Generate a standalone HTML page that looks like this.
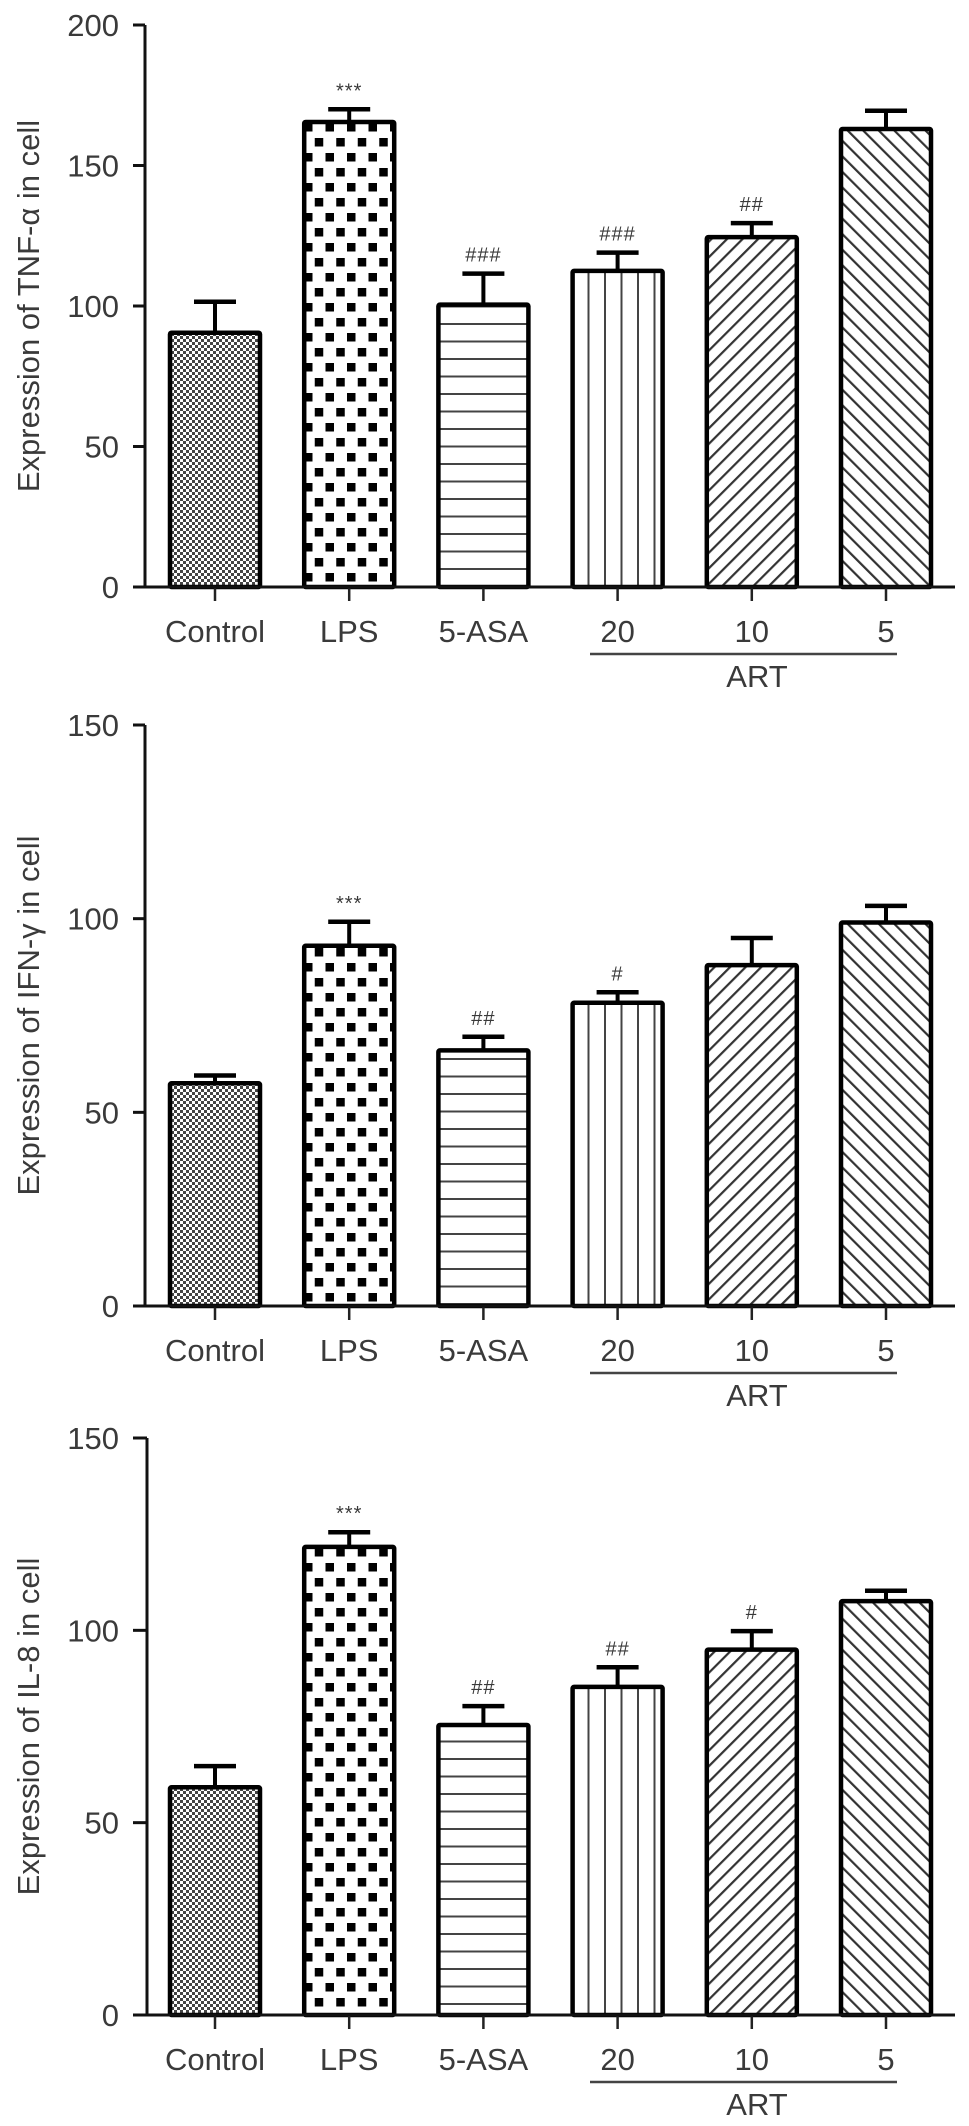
<!DOCTYPE html>
<html><head><meta charset="utf-8"><style>
html,body{margin:0;padding:0;background:#fff;}
svg{display:block;}
text{font-family:"Liberation Sans",sans-serif;fill:#3a3a3a;}
</style></head><body>
<svg id="fig" width="969" height="2126" viewBox="0 0 969 2126" xmlns="http://www.w3.org/2000/svg">
<defs>
<pattern id="pDots" patternUnits="userSpaceOnUse" width="6" height="6">
<rect width="6" height="6" fill="#fff"/><rect x="0" y="0" width="3" height="3" fill="#444"/><rect x="3" y="3" width="3" height="3" fill="#444"/>
</pattern>
<pattern id="pCheck" patternUnits="userSpaceOnUse" width="21.5" height="30">
<rect width="21.5" height="30" fill="#fff"/><rect x="3" y="3" width="8.5" height="8.5" fill="#000"/><rect x="13.75" y="18" width="8.5" height="8.5" fill="#000"/><rect x="-7.75" y="18" width="8.5" height="8.5" fill="#000"/>
</pattern>
<pattern id="pHoriz" patternUnits="userSpaceOnUse" width="10" height="17.5">
<rect width="10" height="17.5" fill="#fff"/><rect x="0" y="8" width="10" height="2" fill="#444"/>
</pattern>
<pattern id="pVert" patternUnits="userSpaceOnUse" width="16.5" height="10" x="2">
<rect width="16.5" height="10" fill="#fff"/><rect x="8" y="0" width="2" height="10" fill="#444"/>
</pattern>
<pattern id="pFwd" patternUnits="userSpaceOnUse" width="11" height="11" patternTransform="rotate(45)">
<rect width="11" height="11" fill="#fff"/><rect x="0" y="0" width="2.2" height="11" fill="#333"/>
</pattern>
<pattern id="pBack" patternUnits="userSpaceOnUse" width="11" height="11" patternTransform="rotate(-45)">
<rect width="11" height="11" fill="#fff"/><rect x="0" y="0" width="2.2" height="11" fill="#333"/>
</pattern>
</defs>
</svg>
<script>
const categories = ["Control","LPS","5-ASA","20","10","5"];
const tnfMeans = [90.5, 165.5, 100.5, 112.5, 124.5, 163];
const tnfErrTop = [101.5, 170, 111.5, 119, 129.5, 169.5];
const tnfMarks = ["", "***", "###", "###", "##", ""];
const tnfTicks = [0, 50, 100, 150, 200];
const ifnMeans = [57.5, 93, 66, 78.3, 88, 99];
const ifnErrTop = [59.5, 99.2, 69.5, 81, 95, 103.3];
const ifnMarks = ["", "***", "##", "#", "", ""];
const ifnTicks = [0, 50, 100, 150];
const il8Means = [59.2, 121.7, 75.4, 85.3, 95, 107.6];
const il8ErrTop = [64.7, 125.5, 80.3, 90.4, 99.8, 110.3];
const il8Marks = ["", "***", "##", "##", "#", ""];
const il8Ticks = [0, 50, 100, 150];
const fills = ["pDots","pCheck","pHoriz","pVert","pFwd","pBack"];

const NS = "http://www.w3.org/2000/svg";
const svg = document.getElementById("fig");
function mk(tag, attrs, parent){
  const e = document.createElementNS(NS, tag);
  for (const k in attrs) e.setAttribute(k, attrs[k]);
  (parent||svg).appendChild(e);
  return e;
}
const panels = [
  {key:"tnf", title:"Expression of TNF-\u03b1 in cell", means:tnfMeans, err:tnfErrTop, marks:tnfMarks, ticks:tnfTicks, base:587, top:25, axisX:145},
  {key:"ifn", title:"Expression of IFN-\u03b3 in cell", means:ifnMeans, err:ifnErrTop, marks:ifnMarks, ticks:ifnTicks, base:1306, top:725, axisX:145},
  {key:"il8", title:"Expression of IL-8 in cell", means:il8Means, err:il8ErrTop, marks:il8Marks, ticks:il8Ticks, base:2015, top:1438, axisX:147}
];
panels.forEach(p => {
  const g = mk("g", {});
  
  
  const maxV = p.ticks[p.ticks.length-1];
  const y = v => p.base - (p.base - p.top) * v / maxV;
  const x = i => 215 + i * 134.2;
  categories.forEach((c, i) => {
    const bw = 90;
    const yt = y(p.means[i]);
    const eb = y(p.err[i]);
    const el = mk("line", {x1:x(i), x2:x(i), y1:yt, y2:eb, stroke:"#000", "stroke-width":4}, g);
    
    
    const cap = mk("line", {x1:x(i)-21, x2:x(i)+21, y1:eb, y2:eb, stroke:"#000", "stroke-width":4.5}, g);
    
    
    const r = mk("rect", {x:x(i)-bw/2, y:yt, width:bw, height:p.base-yt, fill:"url(#"+fills[i]+")", stroke:"#000", "stroke-width":4.5, rx:1.5}, g);
    
    
    if (p.marks[i]) {
      const t = mk("text", {x:x(i), y:eb-12, "text-anchor":"middle", "font-size":20, "font-family":"Liberation Serif, serif", "letter-spacing":"1"}, g);
      t.textContent = p.marks[i];
      
      
    }
    const tk = mk("line", {x1:x(i), x2:x(i), y1:p.base, y2:p.base+14, stroke:"#222", "stroke-width":2.5}, g);
    
    
    const lb = mk("text", {x:x(i), y:p.base+55, "text-anchor":"middle", "font-size":31}, g);
    lb.textContent = c;
    
    
  });
  const ya = mk("line", {x1:p.axisX, x2:p.axisX, y1:p.top, y2:p.base+1, stroke:"#111", "stroke-width":3}, g);
  
  
  const xa = mk("line", {x1:133, x2:955, y1:p.base, y2:p.base, stroke:"#111", "stroke-width":3}, g);
  
  
  p.ticks.forEach(v => {
    const t = mk("line", {x1:133, x2:p.axisX, y1:y(v), y2:y(v), stroke:"#111", "stroke-width":3}, g);
    
    
    const l = mk("text", {x:119, y:y(v)+11, "text-anchor":"end", "font-size":31}, g);
    l.textContent = v;
    
    
  });
  const cy = (p.top + p.base) / 2;
  const yt = mk("text", {x:0, y:0, "text-anchor":"middle", "font-size":31, transform:"translate(39,"+cy+") rotate(-90)"}, g);
  yt.textContent = p.title;
  
  
  const ul = mk("line", {x1:590, x2:897, y1:p.base+67, y2:p.base+67, stroke:"#444", "stroke-width":2.5}, g);
  
  
  const art = mk("text", {x:757, y:p.base+100, "text-anchor":"middle", "font-size":31}, g);
  art.textContent = "ART";
  
  
});
</script>
</body></html>
